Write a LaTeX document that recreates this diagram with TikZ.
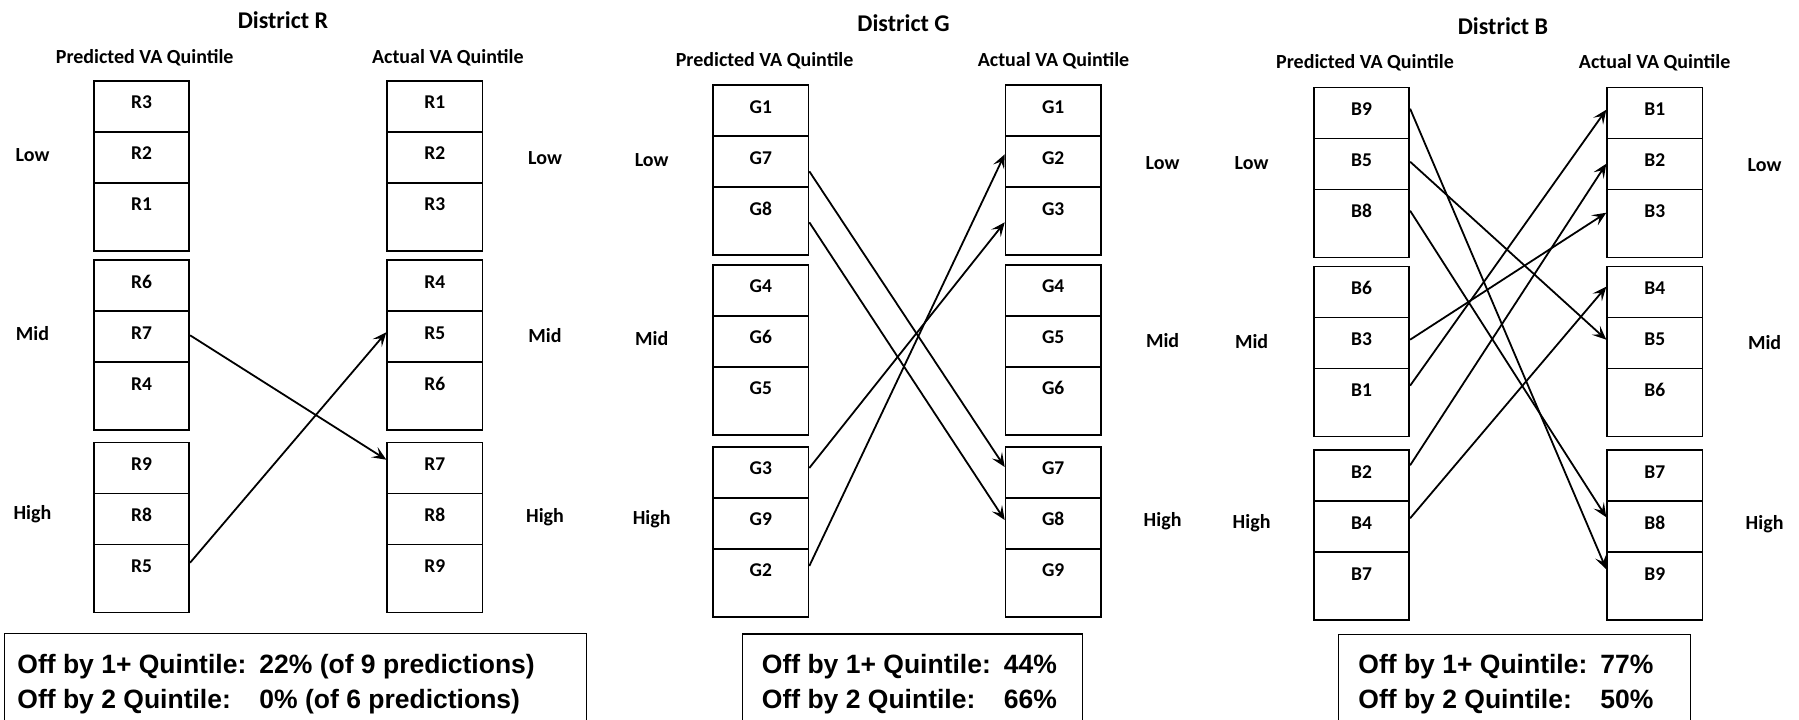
\documentclass[tikz,border=0pt]{standalone}
\usepackage{fontspec}
\setmainfont{Carlito}
\newfontfamily\sumfont{Liberation Sans}
\usetikzlibrary{arrows.meta}

\tikzset{
  cell/.style={draw, line width=1.7pt, rectangle, minimum width=95.3pt,
    inner xsep=0pt, inner ysep=0pt, text height=28pt, anchor=north,
    font=\fontsize{19.5}{22}\selectfont\bfseries},
  sidelab/.style={inner sep=0pt, text height=13pt, text depth=0pt,
    font=\fontsize{20}{24}\selectfont\bfseries},
  colhead/.style={inner sep=0pt, text height=13pt, text depth=0pt,
    font=\fontsize{20}{24}\selectfont\bfseries},
  disttitle/.style={inner sep=0pt, text height=15.5pt, text depth=0pt,
    font=\fontsize{24}{28}\selectfont\bfseries},
  arr/.style={line width=1.8pt, -{Stealth[length=14pt,width=12pt,inset=6pt]}},
  sumbox/.style={draw, line width=1.5pt, anchor=north west, inner sep=0pt},
  sumtext/.style={anchor=base west, inner sep=0pt,
    font=\sumfont\bfseries\fontsize{26.5}{35}\selectfont},
}

% one column of three quintile groups: #1 name prefix, #2 x centre,
% #3 tops of the three groups, #4 the nine cell labels top to bottom
\newcommand{\quintcolumn}[4]{%
  \foreach \lab [count=\i] in {#4} {
    \pgfmathtruncatemacro\grp{int(floor((\i-1)/3))}
    \pgfmathtruncatemacro\rw{int(mod(\i-1,3))}
    \pgfmathsetmacro\rowtop{{#3}[\grp]+51*\rw}
    \ifnum\rw=2 \def\celldep{40pt}\else\def\celldep{23pt}\fi
    \node[cell, text depth=\celldep] (#1\lab) at (#2,\rowtop) {\lab};
  }%
}

\begin{document}
\begin{tikzpicture}[x=1pt,y=-1pt]
\useasboundingbox (0,0) rectangle (1799,720);
\clip (0,0) rectangle (1799,720);

% ---------------- District R ----------------
\node[disttitle] (titleR) at (283,21) {District R};
\node[colhead] (headRp) at (144.7,57) {Predicted VA Quintile};
\node[colhead] (headRa) at (447.8,57) {Actual VA Quintile};
\quintcolumn{p}{141.6}{80,259.3,441.7}{R3,R2,R1,R6,R7,R4,R9,R8,R5}
\quintcolumn{a}{434.8}{80,259.3,441.7}{R1,R2,R3,R4,R5,R6,R7,R8,R9}
\node[sidelab] (lowRl)  at (32.5,155) {Low};
\node[sidelab] (midRl)  at (32.5,334) {Mid};
\node[sidelab] (highRl) at (32.5,513) {High};
\node[sidelab] (lowRr)  at (545,158) {Low};
\node[sidelab] (midRr)  at (545,336) {Mid};
\node[sidelab] (highRr) at (545,516) {High};
\draw[arr] ([yshift=-25pt]pR7.north east) -- ([yshift=-18pt]aR7.north west);
\draw[arr] ([yshift=-19pt]pR5.north east) -- ([yshift=-22pt]aR5.north west);

% ---------------- District G ----------------
\node[disttitle] (titleG) at (903.5,24) {District G};
\node[colhead] (headGp) at (764.6,60) {Predicted VA Quintile};
\node[colhead] (headGa) at (1053.5,60) {Actual VA Quintile};
\quintcolumn{p}{760.8}{84.3,264,446}{G1,G7,G8,G4,G6,G5,G3,G9,G2}
\quintcolumn{a}{1053.2}{84.3,264,446}{G1,G2,G3,G4,G5,G6,G7,G8,G9}
\node[sidelab] (lowGl)  at (651.7,160) {Low};
\node[sidelab] (midGl)  at (651.7,339.3) {Mid};
\node[sidelab] (highGl) at (651.7,518.3) {High};
\node[sidelab] (lowGr)  at (1162.6,163) {Low};
\node[sidelab] (midGr)  at (1162.6,340.7) {Mid};
\node[sidelab] (highGr) at (1162.6,520) {High};
\draw[arr] ([yshift=-36pt]pG7.north east) -- ([yshift=-21pt]aG7.north west);
\draw[arr] ([yshift=-36pt]pG8.north east) -- ([yshift=-23pt]aG8.north west);
\draw[arr] ([yshift=-22pt]pG3.north east) -- ([yshift=-36pt]aG3.north west);
\draw[arr] ([yshift=-18pt]pG2.north east) -- ([yshift=-19pt]aG2.north west);

% ---------------- District B ----------------
\node[disttitle] (titleB) at (1503,26.7) {District B};
\node[colhead] (headBp) at (1365,62) {Predicted VA Quintile};
\node[colhead] (headBa) at (1654.6,62) {Actual VA Quintile};
\quintcolumn{p}{1361.6}{86.7,265.7,449.3}{B9,B5,B8,B6,B3,B1,B2,B4,B7}
\quintcolumn{a}{1654.8}{86.7,265.7,449.3}{B1,B2,B3,B4,B5,B6,B7,B8,B9}
\node[sidelab] (lowBl)  at (1251.6,163) {Low};
\node[sidelab] (midBl)  at (1251.6,341.7) {Mid};
\node[sidelab] (highBl) at (1251.6,521.7) {High};
\node[sidelab] (lowBr)  at (1764.6,165) {Low};
\node[sidelab] (midBr)  at (1764.6,343.3) {Mid};
\node[sidelab] (highBr) at (1764.6,523.3) {High};
\draw[arr] ([yshift=-22pt]pB9.north east) -- ([yshift=-18pt]aB9.north west);
\draw[arr] ([yshift=-24pt]pB5.north east) -- ([yshift=-23pt]aB5.north west);
\draw[arr] ([yshift=-22pt]pB8.north east) -- ([yshift=-17pt]aB8.north west);
\draw[arr] ([yshift=-23pt]pB3.north east) -- ([yshift=-24pt]aB3.north west);
\draw[arr] ([yshift=-18pt]pB1.north east) -- ([yshift=-23pt]aB1.north west);
\draw[arr] ([yshift=-16pt]pB2.north east) -- ([yshift=-26pt]aB2.north west);
\draw[arr] ([yshift=-18pt]pB4.north east) -- ([yshift=-21pt]aB4.north west);

% ---------------- summary boxes ----------------
\node[sumbox, minimum width=581.7pt, minimum height=150pt] (sumR) at (3.8,632.7) {};
\node[sumtext] (sumRt) at (17.2,673.3) {\begin{tabular}[t]{@{}l@{}}%
  \makebox[242pt][l]{Off by 1+ Quintile:}22\% (of 9 predictions)\\
  \makebox[242pt][l]{Off by 2 Quintile:}0\% (of 6 predictions)\end{tabular}};

\node[sumbox, minimum width=340pt, minimum height=150pt] (sumG) at (741.7,633.3) {};
\node[sumtext] (sumGt) at (761.7,673.3) {\begin{tabular}[t]{@{}l@{}}%
  \makebox[242pt][l]{Off by 1+ Quintile:}44\%\\
  \makebox[242pt][l]{Off by 2 Quintile:}66\%\end{tabular}};

\node[sumbox, minimum width=351.8pt, minimum height=150pt] (sumB) at (1337.9,633.8) {};
\node[sumtext] (sumBt) at (1358.2,673.3) {\begin{tabular}[t]{@{}l@{}}%
  \makebox[242pt][l]{Off by 1+ Quintile:}77\%\\
  \makebox[242pt][l]{Off by 2 Quintile:}50\%\end{tabular}};
\end{tikzpicture}
\end{document}
